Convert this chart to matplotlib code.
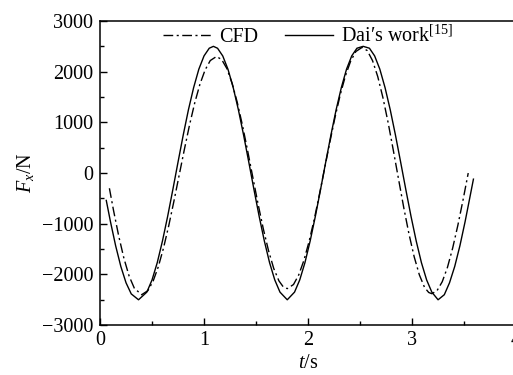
import matplotlib
matplotlib.use("Agg")
import matplotlib.pyplot as plt
from matplotlib.ticker import MultipleLocator

plt.rcParams['font.family'] = ['Liberation Serif', 'DejaVu Serif']
plt.rcParams['mathtext.fontset'] = 'custom'
plt.rcParams['mathtext.rm'] = 'Liberation Serif'
plt.rcParams['mathtext.it'] = 'Liberation Serif:italic'

# Dai's work (solid)
t_dai = [0.06, 0.10, 0.15, 0.20, 0.25, 0.30, 0.37, 0.45, 0.50, 0.55, 0.60, 0.65,
         0.70, 0.75, 0.80, 0.85, 0.90, 0.95, 1.00, 1.05, 1.09, 1.13, 1.18, 1.23,
         1.28, 1.33, 1.38, 1.43, 1.48, 1.53, 1.58, 1.63, 1.68, 1.73, 1.80, 1.87,
         1.92, 1.97, 2.02, 2.07, 2.12, 2.17, 2.22, 2.27, 2.32, 2.37, 2.42, 2.47,
         2.53, 2.59, 2.64, 2.69, 2.74, 2.79, 2.84, 2.89, 2.94, 2.99, 3.04, 3.09,
         3.14, 3.19, 3.25, 3.31, 3.36, 3.41, 3.46, 3.51, 3.55, 3.59]
f_dai = [-540, -957, -1434, -1843, -2165, -2384, -2500, -2349, -2108, -1768, -1342, -855,
         -326, 218, 752, 1250, 1687, 2050, 2312, 2463, 2500, 2462, 2310, 2048,
         1690, 1250, 752, 218, -326, -855, -1342, -1768, -2108, -2349, -2500, -2349,
         -2108, -1768, -1342, -855, -326, 218, 752, 1250, 1687, 2050, 2312, 2463,
         2500, 2463, 2312, 2050, 1687, 1250, 752, 218, -326, -855, -1342, -1768,
         -2108, -2349, -2500, -2400, -2165, -1843, -1434, -957, -540, -120]

# CFD (dash-dot)
t_cfd = [0.09, 0.13, 0.18, 0.23, 0.28, 0.33, 0.40, 0.46, 0.51, 0.56, 0.61, 0.66,
         0.71, 0.76, 0.81, 0.86, 0.91, 0.96, 1.01, 1.06, 1.12, 1.17, 1.22, 1.27,
         1.32, 1.37, 1.42, 1.47, 1.52, 1.57, 1.62, 1.67, 1.72, 1.76, 1.80, 1.86,
         1.91, 1.96, 2.01, 2.06, 2.11, 2.16, 2.21, 2.26, 2.31, 2.36, 2.41, 2.46,
         2.52, 2.57, 2.62, 2.67, 2.72, 2.77, 2.82, 2.87, 2.92, 2.97, 3.02, 3.07,
         3.12, 3.16, 3.19, 3.24, 3.29, 3.34, 3.39, 3.44, 3.49, 3.54]
f_cfd = [-300, -740, -1246, -1685, -2035, -2273, -2400, -2320, -2134, -1850, -1481, -1044,
         -558, -50, 458, 944, 1381, 1750, 2034, 2220, 2300, 2238, 2060, 1771,
         1389, 935, 431, -95, -617, -1103, -1531, -1882, -2127, -2241, -2280, -2199,
         -2011, -1723, -1349, -907, -414, 100, 614, 1107, 1549, 1923, 2211, 2399,
         2480, 2414, 2218, 1904, 1486, 993, 446, -120, -681, -1199, -1649, -2008,
         -2256, -2356, -2380, -2320, -2144, -1862, -1483, -1033, -531, 0]

fig = plt.figure(figsize=(5.13, 3.75), dpi=100)
ax = fig.add_axes([0.195, 0.133, 0.811, 0.811])

ax.plot(t_cfd, f_cfd, color='black', lw=1.0, linestyle=(0, (7, 2.5, 1.5, 2.5)), label='CFD')
ax.plot(t_dai, f_dai, color='black', lw=1.0, label='Dai\u2032s work$^{[15]}$')

ax.set_xlim(0, 4)
ax.set_ylim(-3000, 3000)
ax.xaxis.set_major_locator(MultipleLocator(1))
ax.xaxis.set_minor_locator(MultipleLocator(0.5))
ax.yaxis.set_major_locator(MultipleLocator(1000))
ax.yaxis.set_minor_locator(MultipleLocator(500))
ax.tick_params(which='both', direction='in', top=False, right=False, labelsize=14.5)
ax.tick_params(which='major', length=5, width=1, pad=5)
ax.tick_params(axis='x', which='major', pad=4)
ax.tick_params(which='minor', length=3, width=1)
for s in ax.spines.values():
    s.set_linewidth(1.1)

ax.set_xlabel('$t$/s', fontsize=14.5, labelpad=3)
ax.set_ylabel('$F_x$/N', fontsize=14.5, labelpad=4)

ax.legend(loc='upper center', bbox_to_anchor=(0.5, 1.045), ncol=2, frameon=False,
          fontsize=14.5, handlelength=2.4, columnspacing=1.3, handletextpad=0.4)

fig.savefig('out.png', dpi=100)
